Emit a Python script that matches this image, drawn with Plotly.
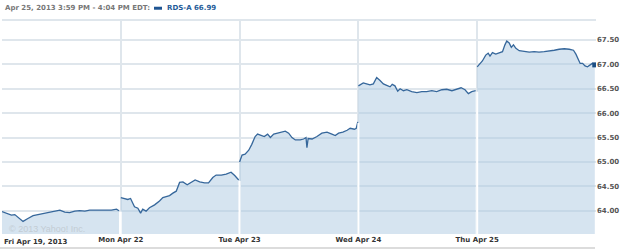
import plotly.graph_objects as go

# ---------------- data ----------------
day_labels = ["Fri Apr 19, 2013", "Mon Apr 22", "Tue Apr 23", "Wed Apr 24", "Thu Apr 25"]
y_ticks = [64.0, 64.5, 65.0, 65.5, 66.0, 66.5, 67.0, 67.5]
title_text = "Apr 25, 2013 3:59 PM - 4:04 PM EDT:"
symbol_text = "RDS-A 66.99"
copyright_text = "© 2013 Yahoo! Inc."

# minutes since the open (9:30) and price, one pair of lists per session
fri_min = [0, 14, 31, 42, 53, 69, 85, 102, 118, 135, 151, 168, 190, 206, 222, 239, 255, 272, 288, 310, 327, 343, 359, 376, 384]
fri_px = [63.98, 63.95, 63.91, 63.92, 63.87, 63.78, 63.84, 63.90, 63.92, 63.94, 63.96, 63.97, 64.01, 63.97, 63.96,
          63.99, 64.00, 63.99, 64.01, 64.01, 64.01, 64.00, 64.01, 64.03, 64.00]

mon_min = [0, 12, 23, 32, 39, 45, 56, 65, 72, 83, 94, 111, 127, 138, 149, 160, 171, 182, 193, 204, 218, 231, 244,
           259, 275, 288, 302, 313, 330, 346, 362, 374, 387]
mon_px = [64.27, 64.25, 64.23, 64.25, 64.15, 64.08, 64.05, 63.95, 64.03, 63.99, 64.06, 64.12, 64.20, 64.27, 64.29,
          64.31, 64.36, 64.40, 64.58, 64.59, 64.53, 64.58, 64.63, 64.59, 64.57, 64.57, 64.68, 64.73, 64.73, 64.75,
          64.79, 64.72, 64.63]

tue_min = [0, 8, 18, 30, 40, 51, 59, 70, 81, 92, 101, 112, 128, 139, 150, 161, 172, 183, 199, 210, 218, 221, 225,
           238, 254, 270, 287, 303, 314, 325, 339, 353, 363, 377, 383, 388]
tue_px = [65.00, 65.14, 65.16, 65.24, 65.36, 65.52, 65.57, 65.55, 65.52, 65.57, 65.50, 65.57, 65.59, 65.61, 65.63,
          65.59, 65.50, 65.45, 65.45, 65.47, 65.50, 65.29, 65.48, 65.47, 65.52, 65.59, 65.61, 65.57, 65.54, 65.59,
          65.61, 65.65, 65.69, 65.67, 65.69, 65.82]

wed_min = [0, 16, 27, 38, 49, 60, 71, 82, 93, 104, 111, 120, 129, 137, 148, 159, 175, 192, 208, 224, 241, 257, 274,
           290, 307, 323, 337, 350, 361, 372, 385]
wed_px = [66.56, 66.62, 66.60, 66.58, 66.60, 66.73, 66.67, 66.60, 66.57, 66.54, 66.59, 66.56, 66.45, 66.50, 66.46,
          66.48, 66.44, 66.42, 66.44, 66.44, 66.46, 66.44, 66.48, 66.49, 66.46, 66.49, 66.52, 66.48, 66.40, 66.44,
          66.46]

thu_min = [0, 10, 17, 28, 36, 42, 50, 61, 72, 83, 91, 97, 105, 112, 119, 127, 138, 154, 171, 187, 203, 220, 236,
           253, 269, 286, 302, 316, 324, 332, 338, 346, 354, 362, 371, 378, 386]
thu_px = [66.95, 67.02, 67.07, 67.19, 67.23, 67.17, 67.24, 67.21, 67.24, 67.26, 67.40, 67.48, 67.44, 67.35, 67.40,
          67.33, 67.28, 67.26, 67.25, 67.26, 67.25, 67.26, 67.27, 67.29, 67.31, 67.32, 67.31, 67.29, 67.21, 67.10,
          67.02, 67.02, 66.97, 66.95, 66.99, 67.02, 66.99]

sessions = [(fri_min, fri_px), (mon_min, mon_px), (tue_min, tue_px), (wed_min, wed_px), (thu_min, thu_px)]
SESSION_MIN = 390.0

# ---------------- styles ----------------
Y_RANGE = [63.522, 67.91]
LINE_COLOR = "#36679b"
FILL_COLOR = "rgba(173,201,225,0.5)"
GRID_COLOR = "#dfe6ec"
FONT = "DejaVu Sans"

fig = go.Figure()

for d, (mins, prices) in enumerate(sessions):
    xs = [d + m / SESSION_MIN for m in mins]
    fig.add_trace(go.Scatter(x=xs, y=prices, mode="lines", fill="tozeroy",
                             fillcolor=FILL_COLOR,
                             line=dict(color=LINE_COLOR, width=1.3),
                             hoverinfo="skip", showlegend=False))

# white separators inside the filled area at each session boundary
for d in range(1, len(sessions)):
    top = min(sessions[d - 1][1][-1], sessions[d][1][0]) - 0.02
    fig.add_trace(go.Scatter(x=[d, d], y=[Y_RANGE[0], top], mode="lines",
                             line=dict(color="white", width=2),
                             hoverinfo="skip", showlegend=False))

# last price marker
fig.add_trace(go.Scatter(x=[4 + thu_min[-1] / SESSION_MIN], y=[thu_px[-1]], mode="markers",
                         marker=dict(symbol="square", size=5, color="#1d4f84"),
                         hoverinfo="skip", showlegend=False))

tickvals_x = list(range(len(day_labels) + 1))
ticktext_x = [""] + day_labels[1:] + [""]

fig.update_layout(
    width=625, height=250,
    margin=dict(l=2, r=29, t=20, b=16),
    paper_bgcolor="white", plot_bgcolor="white",
    showlegend=False, hovermode=False,
    xaxis=dict(range=[0, 5], tickvals=tickvals_x, ticktext=ticktext_x,
               showgrid=True, gridcolor=GRID_COLOR, gridwidth=2,
               zeroline=False, showline=False, ticks="",
               tickfont=dict(family=FONT, size=7, color="#333333", weight="bold")),
    yaxis=dict(range=Y_RANGE, side="right", tickvals=y_ticks,
               ticktext=[f"{v:.2f}" for v in y_ticks],
               showgrid=True, gridcolor=GRID_COLOR, gridwidth=2,
               zeroline=False, showline=False, ticks="",
               tickfont=dict(family=FONT, size=7, color="#555555", weight="bold")),
    shapes=[
        dict(type="line", xref="paper", yref="paper", x0=0, x1=1, y0=1, y1=1,
             line=dict(color=GRID_COLOR, width=2)),
        dict(type="line", xref="paper", yref="paper", x0=-0.0034, x1=0.9983, y0=-0.0654, y1=-0.0654,
             line=dict(color="#dcdcdc", width=2)),
        dict(type="rect", xref="paper", yref="paper", x0=0.2559, x1=0.2694, y0=1.048, y1=1.062,
             fillcolor="#1f5592", line=dict(width=0)),
    ],
    annotations=[
        dict(text=title_text, xref="paper", yref="paper", x=0.0017, y=1.056,
             xanchor="left", yanchor="middle", showarrow=False,
             font=dict(family=FONT, size=7, color="#777777", weight="bold")),
        dict(text=symbol_text, xref="paper", yref="paper", x=0.2744, y=1.056,
             xanchor="left", yanchor="middle", showarrow=False,
             font=dict(family=FONT, size=7, color="#1f5c99", weight="bold")),
        dict(text=day_labels[0], xref="x", yref="paper", x=0, y=-0.0374,
             xanchor="left", yanchor="middle", showarrow=False,
             font=dict(family=FONT, size=7, color="#333333", weight="bold")),
        dict(text=copyright_text, xref="paper", yref="paper", x=0.0084, y=0.0234,
             xanchor="left", yanchor="middle", showarrow=False,
             font=dict(family="Liberation Sans", size=9, color="#c3ccd4")),
    ],
)

fig.write_html("out.html")
